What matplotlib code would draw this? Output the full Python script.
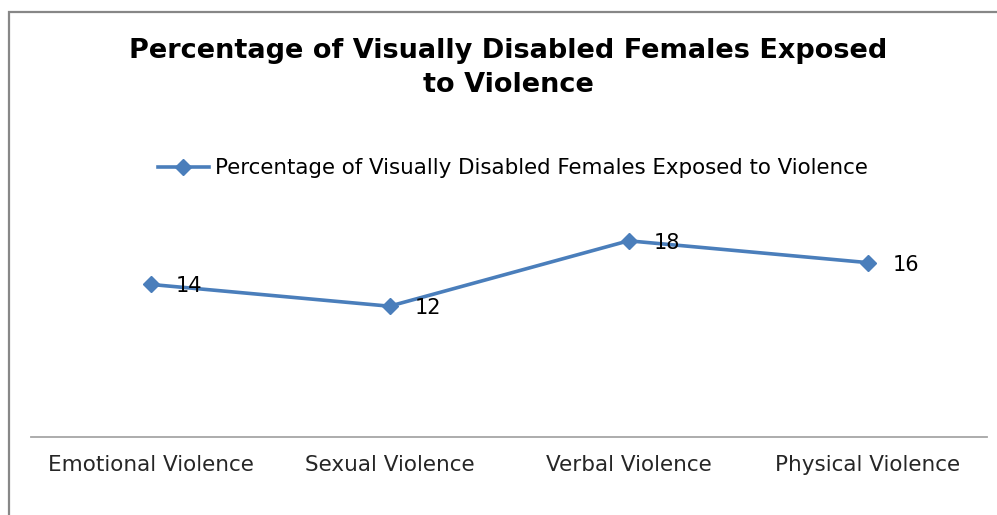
import matplotlib
matplotlib.use("Agg")
import matplotlib.pyplot as plt
from matplotlib.patches import Rectangle

categories = ["Emotional Violence", "Sexual Violence", "Verbal Violence", "Physical Violence"]
values = [14, 12, 18, 16]
series_name = "Percentage of Visually Disabled Females Exposed to Violence"
title = "Percentage of Visually Disabled Females Exposed\nto Violence"

plt.rcParams['font.family'] = ['DejaVu Sans']
W, H = 997, 515
fig = plt.figure(figsize=(W/100, H/100), dpi=100)
fig.patch.set_facecolor("white")

# chart border (left and top visible)
fig.patches.append(Rectangle((9/W, -0.1), 1.2, 1 - 12/H + 0.1, transform=fig.transFigure,
                             fill=False, edgecolor="#878787", linewidth=1.6))

ax = fig.add_axes([31/W, 1 - 437/H, (987-31)/W, (437-219)/H])
x = list(range(len(categories)))
color = "#4A7EBB"
line, = ax.plot(x, values, color=color, linewidth=2.6, marker="D", markersize=8.5,
                label=series_name)
ax.set_xlim(-0.5, len(categories) - 0.5)
ax.set_ylim(0, 20)
for s in ["top", "right", "left"]:
    ax.spines[s].set_visible(False)
ax.spines["bottom"].set_color("#A6A6A6")
ax.spines["bottom"].set_linewidth(1.3)
ax.set_yticks([])
ax.set_xticks(x)
ax.set_xticklabels(categories, fontsize=15.5, color="#262626")
ax.tick_params(axis="x", length=0, pad=13)
ax.set_facecolor("none")

for xi, v in zip(x, values):
    ax.annotate(str(v), (xi, v), xytext=(18, -1.5), textcoords="offset points",
                ha="left", va="center", fontsize=15, color="black")

fig.text(508/W, 1 - 68/H, title, ha="center", va="center", fontsize=19.5,
         fontweight="bold", linespacing=1.45, color="black")

fig.legend(handles=[line], loc="center", bbox_to_anchor=(513/W, 1 - 168/H),
           frameon=False, fontsize=15.4, handlelength=2.4, handletextpad=0.3)

fig.savefig("out.png", dpi=100)
